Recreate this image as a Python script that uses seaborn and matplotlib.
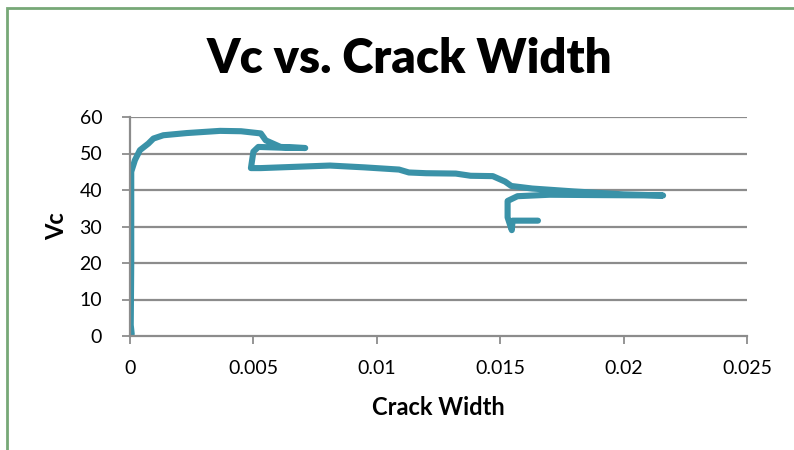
import matplotlib.pyplot as plt
import seaborn as sns
import pandas as pd
from matplotlib.patches import Rectangle

sns.set_theme(style='white')
plt.rcParams['font.family'] = ['Lato', 'DejaVu Sans']
plt.rcParams['text.color'] = 'black'
plt.rcParams['axes.labelcolor'] = 'black'

# Vc vs crack width trace
crack_width = [0.00007, 0.00003, 0.00005, 0.00005, 0.0002, 0.0004, 0.00074, 0.00095,
               0.00135, 0.0023, 0.00365, 0.0045, 0.0053, 0.0055, 0.0061, 0.0071,
               0.0061, 0.0052, 0.0050, 0.0049, 0.0053, 0.0065, 0.0081, 0.0095,
               0.0109, 0.0113, 0.0120, 0.0132, 0.0138, 0.0147, 0.0152, 0.01545,
               0.0163, 0.0180, 0.0200, 0.0216, 0.0190, 0.0170, 0.0157, 0.0153,
               0.0153, 0.01547, 0.0155, 0.01653]
vc = [0.5, 3.0, 20.0, 45.0, 48.2, 50.9, 52.7, 54.1,
      55.0, 55.6, 56.2, 56.1, 55.5, 53.6, 51.8, 51.5,
      51.6, 51.8, 50.5, 46.0, 46.0, 46.3, 46.7, 46.2,
      45.6, 44.8, 44.6, 44.5, 43.9, 43.8, 42.3, 41.1,
      40.4, 39.6, 38.8, 38.5, 38.6, 38.7, 38.3, 37.0,
      32.5, 29.0, 31.6, 31.6]
x_ticks = [0, 0.005, 0.01, 0.015, 0.02, 0.025]
x_labels = ['0', '0.005', '0.01', '0.015', '0.02', '0.025']
y_ticks = [0, 10, 20, 30, 40, 50, 60]

df = pd.DataFrame({'Crack Width': crack_width, 'Vc': vc})

fig = plt.figure(figsize=(7.94, 4.5), dpi=100)
ax = fig.add_axes([130 / 794, 1 - 336 / 450, 617 / 794, 219 / 450])

sns.lineplot(data=df, x='Crack Width', y='Vc', sort=False, estimator=None,
             color='#3A92A8', linewidth=4.4, solid_capstyle='round', ax=ax)

ax.set_xlim(0, 0.025)
ax.set_ylim(0, 60)
ax.set_xticks(x_ticks)
ax.set_xticklabels(x_labels)
ax.set_yticks(y_ticks)
for y in y_ticks[1:]:
    ax.axhline(y, color='#8c8c8c', linewidth=1.6, zorder=0)
for s in ['top', 'right']:
    ax.spines[s].set_visible(False)
for s in ['left', 'bottom']:
    ax.spines[s].set_color('#8c8c8c')
    ax.spines[s].set_linewidth(1.6)
ax.tick_params(axis='both', which='major', length=6, width=1.3, color='#8c8c8c',
               labelsize=14, labelcolor='black', direction='out',
               bottom=True, left=True)
ax.tick_params(axis='x', pad=11)
ax.tick_params(axis='y', pad=14)
ax.set_xlabel('Crack Width', fontsize=17, fontweight='bold', labelpad=14)
ax.set_ylabel('Vc', fontsize=17, fontweight='bold', labelpad=8)

fig.text(409 / 794, 1 - 73 / 450, 'Vc vs. Crack Width', ha='center', va='baseline',
         fontsize=34, fontweight='heavy')

# green frame around the chart area
fig.patches.append(Rectangle((7 / 794, -0.1), 1.2, 1 - 8 / 450 + 0.1,
                             transform=fig.transFigure, fill=False,
                             edgecolor='#77A877', linewidth=2))

fig.savefig('out.png', dpi=100)
